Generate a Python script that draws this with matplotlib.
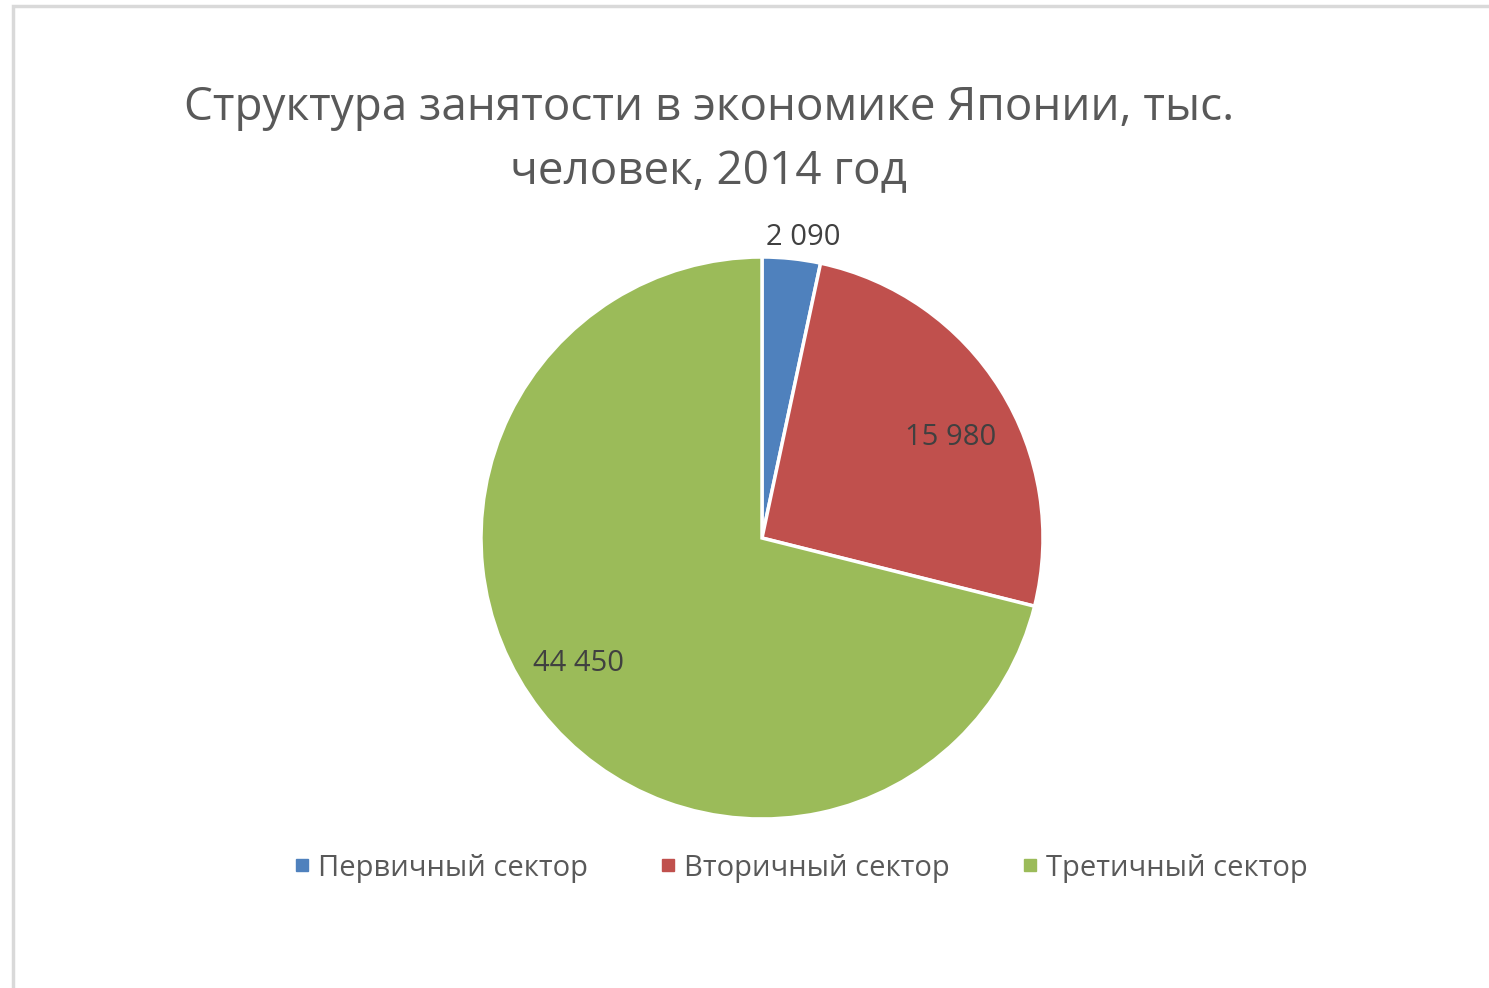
import matplotlib.pyplot as plt
import numpy as np
from matplotlib.lines import Line2D
from matplotlib.patches import Rectangle

plt.rcParams['font.family'] = ['Open Sans', 'DejaVu Sans']

sectors = ['Первичный сектор', 'Вторичный сектор', 'Третичный сектор']
values = [2090, 15980, 44450]
value_labels = ['2 090', '15 980', '44 450']
colors = ['#4F81BD', '#C0504D', '#9BBB59']
title = 'Структура занятости в экономике Японии, тыс.\nчеловек, 2014 год'

W, H = 1489, 988
fig = plt.figure(figsize=(W / 100, H / 100), dpi=100)

# outer chart frame (only top/left visible in the screenshot)
fig.patches.append(Rectangle((13 / W, -0.05), 1.2, (H - 6) / H + 0.05,
                             transform=fig.transFigure, fill=False,
                             edgecolor='#d9d9d9', linewidth=2.5))

cx, cy, r = 762, H - 538, 281
ax = fig.add_axes([(cx - r) / W, (cy - r) / H, 2 * r / W, 2 * r / H])
wedges, _ = ax.pie(values, colors=colors, startangle=90, counterclock=False,
                   wedgeprops=dict(edgecolor='white', linewidth=2.5))
ax.set_xlim(-1, 1)
ax.set_ylim(-1, 1)
for w in wedges:
    w.set_clip_on(False)

# label placement: radial distance and angle nudge per slice
dist = [1.08, 0.76, 0.79]
nudge = [-1.8, -4.0, -3.5]
for w, lab, d, n in zip(wedges, value_labels, dist, nudge):
    ang = np.deg2rad((w.theta1 + w.theta2) / 2 + n)
    ax.text(d * np.cos(ang), d * np.sin(ang), lab, ha='center', va='center',
            fontsize=21, color='#404040')

fig.text(709 / W, 1 - 140 / H, title, ha='center', va='center',
         fontsize=33, color='#595959', linespacing=1.5)

handles = [Line2D([], [], marker='s', linestyle='', markersize=9, color=c)
           for c in colors]
fig.legend(handles, sectors, loc='center', bbox_to_anchor=(794 / W, 1 - 868 / H),
           ncol=3, frameon=False, fontsize=21, labelcolor='#595959',
           handletextpad=-0.2, columnspacing=2.0, handlelength=1.5)

fig.savefig('out.png', dpi=100)
